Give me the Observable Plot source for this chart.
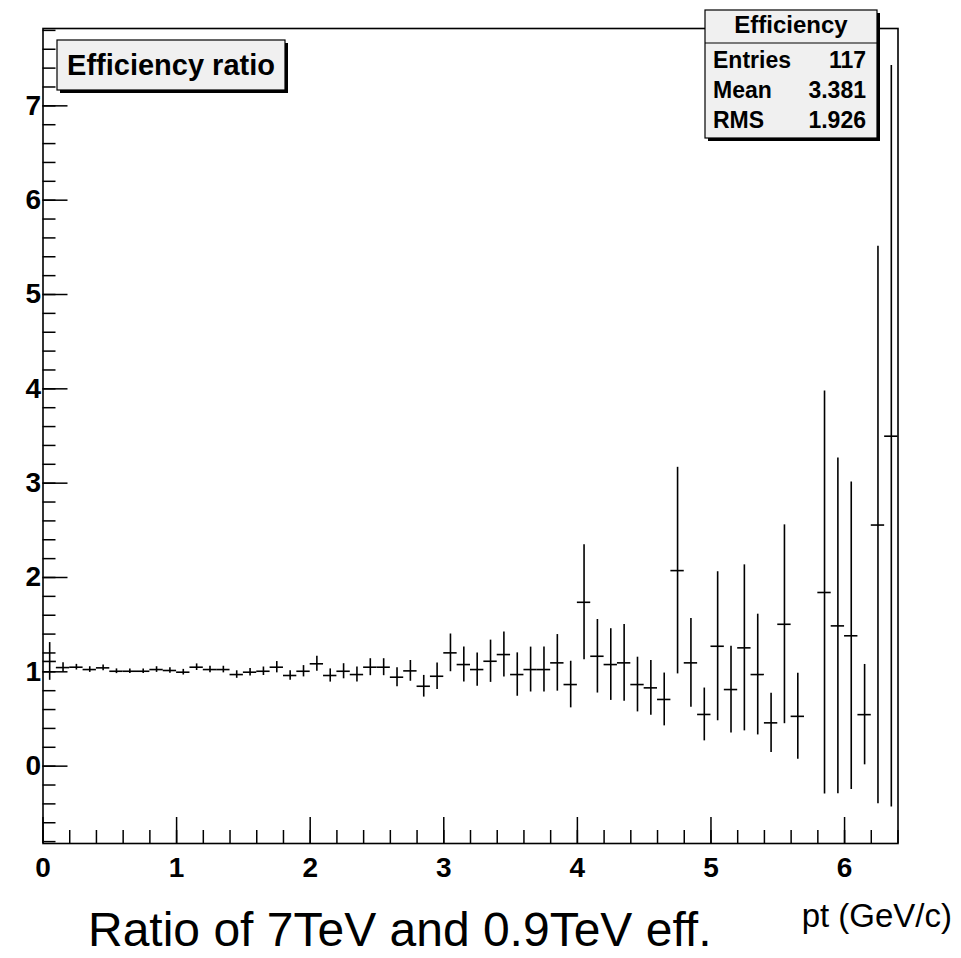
<!DOCTYPE html>
<html><head><meta charset="utf-8">
<script src="https://cdn.jsdelivr.net/npm/d3@7"></script>
<script src="https://cdn.jsdelivr.net/npm/@observablehq/plot@0.6"></script>
<style>
body{margin:0;background:#fff;}
#chart{width:961px;height:958px;}
</style>
</head><body><div id="chart"></div>
<script>
// bin centres (GeV/c), bin width 0.1; bin 5.7-5.8 is empty
const pt = [0.05,0.15,0.25,0.35,0.45,0.55,0.65,0.75,0.85,0.95,
  1.05,1.15,1.25,1.35,1.45,1.55,1.65,1.75,1.85,1.95,
  2.05,2.15,2.25,2.35,2.45,2.55,2.65,2.75,2.85,2.95,
  3.05,3.15,3.25,3.35,3.45,3.55,3.65,3.75,3.85,3.95,
  4.05,4.15,4.25,4.35,4.45,4.55,4.65,4.75,4.85,4.95,
  5.05,5.15,5.25,5.35,5.45,5.55,5.65,5.85,5.95,
  6.05,6.15,6.25,6.35];
const ratio = [1.11,1.045,1.049,1.024,1.042,1.006,1.006,1.006,1.024,1.014,
  0.996,1.049,1.024,1.024,0.971,0.996,1.006,1.049,0.961,1.006,
  1.085,0.961,1.006,0.971,1.049,1.049,0.943,1.01,0.847,0.953,
  1.201,1.077,1.024,1.112,1.183,0.971,1.024,1.024,1.095,0.865,
  1.737,1.165,1.077,1.095,0.865,0.830,0.707,2.073,1.095,0.548,
  1.271,0.812,1.254,0.971,0.459,1.504,0.528,1.841,1.487,
  1.382,0.546,2.556,3.498];
const ratioErr = [0.20,0.05,0.03,0.03,0.03,0.025,0.025,0.025,0.03,0.03,
  0.03,0.035,0.035,0.035,0.04,0.04,0.045,0.06,0.05,0.06,
  0.08,0.07,0.08,0.08,0.09,0.09,0.10,0.11,0.115,0.14,
  0.20,0.185,0.176,0.224,0.238,0.23,0.238,0.238,0.30,0.247,
  0.61,0.39,0.38,0.406,0.29,0.29,0.28,1.095,0.47,0.28,
  0.79,0.46,0.88,0.64,0.315,1.054,0.456,2.135,1.78,
  1.63,0.532,2.955,3.93];
const binWidth = 0.1;

const xTicks = [0,1,2,3,4,5,6];
const yTicks = [0,1,2,3,4,5,6,7];
const xMinor = d3.range(0, 6.41, 0.2).map(v => +v.toFixed(2));
const yMinor = d3.range(-0.8, 7.81, 0.2).map(v => +v.toFixed(2));

const statsTitle = "Efficiency";
const statsLabels = ["Entries","Mean","RMS"];
const statsValues = ["117","3.381","1.926"];
const histTitle = "Efficiency ratio";
const xLabel = "pt (GeV/c)";
const caption = "Ratio of 7TeV and 0.9TeV eff.";

const rows = pt.map((x, i) => ({x, y: ratio[i], e: ratioErr[i]}));

const W = 961, H = 958, mL = 42.5, mR = 63.5, mT = 28, mB = 115;
const fw = W - mL - mR, fh = H - mT - mB;
const font = "'Liberation Sans', Arial, Helvetica, sans-serif";

const svg = Plot.plot({
  width: W, height: H,
  marginLeft: mL, marginRight: mR, marginTop: mT, marginBottom: mB,
  x: {domain: [0, 6.4]},
  y: {domain: [-0.82, 7.82]},
  style: {fontFamily: font, background: "white", color: "black", overflow: "visible"},
  marks: [
    Plot.axisX(xTicks, {tickSize: 0, tickPadding: 14, fontSize: 28, fontWeight: "bold", label: null, tickFormat: d => String(d)}),
    Plot.axisY(yTicks, {tickSize: 0, tickPadding: 2, fontSize: 28, fontWeight: "bold", label: null, tickFormat: d => String(d)}),
    Plot.ruleX(xMinor, {x: d => d, insetTop: fh - 13, stroke: "black", strokeWidth: 1.5}),
    Plot.ruleX(xTicks, {x: d => d, insetTop: fh - 26, stroke: "black", strokeWidth: 1.5}),
    Plot.ruleY(yMinor, {y: d => d, insetRight: fw - 13, stroke: "black", strokeWidth: 1.5}),
    Plot.ruleY(yTicks, {y: d => d, insetRight: fw - 25, stroke: "black", strokeWidth: 1.5}),
    Plot.ruleX(rows, {x: "x", y1: d => d.y - d.e, y2: d => d.y + d.e, stroke: "black", strokeWidth: 1.6}),
    Plot.ruleY(rows, {y: "y", x1: d => d.x - binWidth / 2, x2: d => d.x + binWidth / 2, stroke: "black", strokeWidth: 1.6}),
    Plot.frame({stroke: "black", strokeWidth: 1.6})
  ]
});

const s = d3.select(svg);
function txt(g, x, y, size, weight, anchor, str) {
  return g.append("text").attr("x", x).attr("y", y).attr("font-family", font)
    .attr("font-weight", weight).attr("font-size", size).attr("text-anchor", anchor)
    .attr("fill", "black").text(str);
}
// title box
const tb = s.append("g");
tb.append("rect").attr("x", 60).attr("y", 43).attr("width", 228).attr("height", 50).attr("fill", "black");
tb.append("rect").attr("x", 57).attr("y", 40).attr("width", 228).attr("height", 50)
  .attr("fill", "#f0f0f0").attr("stroke", "black").attr("stroke-width", 1.2);
txt(tb, 171, 75, 29, "bold", "middle", histTitle);

// stats box
const sb = s.append("g");
sb.append("rect").attr("x", 708).attr("y", 13).attr("width", 172).attr("height", 128).attr("fill", "black");
sb.append("rect").attr("x", 705).attr("y", 10).attr("width", 172).attr("height", 128)
  .attr("fill", "#f0f0f0").attr("stroke", "black").attr("stroke-width", 1.2);
sb.append("line").attr("x1", 705).attr("x2", 877).attr("y1", 43).attr("y2", 43).attr("stroke", "black").attr("stroke-width", 1.2);
txt(sb, 791, 33, 24, "bold", "middle", statsTitle);
statsLabels.forEach((lab, i) => {
  const y = 68.3 + i * 29.7;
  txt(sb, 713, y, 23, "bold", "start", lab);
  txt(sb, 866, y, 23, "bold", "end", statsValues[i]);
});

// axis title and caption
txt(s, 952, 927, 33, "normal", "end", xLabel);
txt(s, 88, 946, 48, "normal", "start", caption);

document.getElementById("chart").appendChild(svg);
</script>
</body></html>
